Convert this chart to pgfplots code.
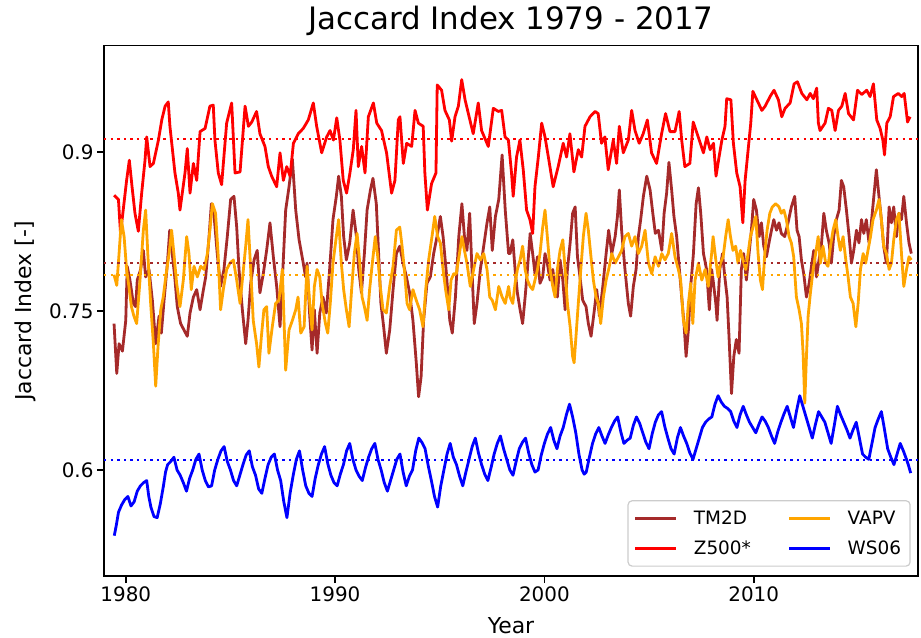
\documentclass[border=0pt]{standalone}
\usepackage{fontspec}
\setmainfont{DejaVu Sans}
\usepackage{pgfplots}
\pgfplotsset{compat=1.18}
\definecolor{mbrown}{HTML}{A52A2A}
\definecolor{morange}{HTML}{FFA500}
\definecolor{mred}{HTML}{FF0000}
\definecolor{mblue}{HTML}{0000FF}
\begin{document}
\begin{tikzpicture}
\useasboundingbox (-104bp,-62bp) rectangle (817bp,576bp);
\begin{axis}[
  scale only axis, width=814bp, height=530.3bp,
  xmin=1978.96, xmax=2017.85, ymin=0.5, ymax=1.0,
  axis line style={line width=1.6bp, black},
  tick style={line width=1.6bp, black},
  major tick length=7bp,
  tick align=outside,
  xtick pos=left, ytick pos=left,
  xtick={1980,1990,2000,2010}, xticklabels={1980,1990,2000,2010},
  ytick={0.6,0.75,0.9}, yticklabels={0.6,0.75,0.9},
  tick label style={font=\fontsize{20}{24}\selectfont},
  title={Jaccard Index 1979 - 2017},
  title style={font=\fontsize{31}{36}\selectfont, at={(axis description cs:0.5,1.0202)}, anchor=base},
  xlabel={Year},
  xlabel style={font=\fontsize{22}{26}\selectfont, at={(axis description cs:0.5,-0.1075)}, anchor=base},
  ylabel={Jaccard Index [-]},
  ylabel style={font=\fontsize{22}{26}\selectfont, at={(axis description cs:-0.0799,0.5)}, anchor=south, rotate=0},
  legend columns=2, transpose legend, legend cell align=left,
  legend image code/.code={\draw[#1] (0bp,0bp) -- (41bp,0bp);},
  legend style={at={(0.991,0.0175)}, anchor=south east, draw=black!20, line width=1.2bp,
    rounded corners=4bp, fill=white, fill opacity=0.8, text opacity=1,
    font=\fontsize{18.5}{22}\selectfont, inner xsep=6bp, inner ysep=7bp,
    nodes={inner sep=3bp}, row sep=9bp,
    /tikz/every odd column/.append style={column sep=13bp},
    /tikz/every even column/.append style={column sep=34bp}},
  every axis plot/.append style={line join=round},
]
% TM2D
\addplot[color=mbrown, line width=2.8bp] coordinates {
(1979.44,0.738)(1979.57,0.691)(1979.68,0.719)(1979.84,0.712)(1980.00,0.741)(1980.07,0.792)(1980.20,0.779)(1980.36,0.757)(1980.47,0.754)(1980.55,0.779)(1980.71,0.789)(1980.84,0.807)(1980.95,0.782)(1981.11,0.789)(1981.27,0.760)(1981.43,0.719)(1981.59,0.745)(1981.70,0.729)(1981.83,0.760)(1981.99,0.795)(1982.10,0.826)(1982.22,0.804)(1982.34,0.782)(1982.46,0.754)(1982.62,0.738)(1982.78,0.732)(1982.94,0.726)(1983.07,0.748)(1983.23,0.763)(1983.39,0.770)(1983.55,0.751)(1983.71,0.770)(1983.82,0.782)(1983.98,0.820)(1984.09,0.851)(1984.21,0.842)(1984.37,0.804)(1984.53,0.773)(1984.69,0.789)(1984.85,0.820)(1985.01,0.855)(1985.17,0.858)(1985.30,0.829)(1985.41,0.789)(1985.57,0.751)(1985.73,0.719)(1985.84,0.741)(1985.97,0.776)(1986.13,0.798)(1986.28,0.807)(1986.41,0.767)(1986.57,0.785)(1986.73,0.807)(1986.89,0.833)(1987.05,0.801)(1987.21,0.773)(1987.37,0.735)(1987.48,0.779)(1987.64,0.845)(1987.80,0.867)(1987.96,0.893)(1988.12,0.845)(1988.28,0.817)(1988.48,0.795)(1988.59,0.782)
(1988.66,0.795)(1988.79,0.745)(1988.90,0.713)(1989.01,0.751)(1989.14,0.710)(1989.27,0.748)(1989.42,0.763)(1989.58,0.748)(1989.74,0.789)(1989.90,0.836)(1990.06,0.858)(1990.17,0.877)(1990.30,0.858)(1990.41,0.820)(1990.54,0.798)(1990.70,0.814)(1990.86,0.845)(1991.02,0.820)(1991.13,0.789)(1991.26,0.767)(1991.40,0.804)(1991.53,0.845)(1991.69,0.864)(1991.81,0.875)(1991.97,0.851)(1992.08,0.804)(1992.19,0.757)(1992.32,0.735)(1992.45,0.710)(1992.61,0.732)(1992.77,0.770)(1992.93,0.804)(1993.09,0.811)(1993.25,0.795)(1993.41,0.782)(1993.56,0.767)(1993.72,0.741)(1993.88,0.701)(1993.99,0.669)(1994.11,0.688)(1994.23,0.741)(1994.39,0.776)(1994.55,0.782)(1994.71,0.804)(1994.87,0.820)(1995.03,0.839)(1995.16,0.820)(1995.32,0.785)(1995.48,0.741)(1995.60,0.729)(1995.75,0.763)(1995.91,0.820)(1996.06,0.851)(1996.18,0.820)(1996.30,0.807)(1996.43,0.842)(1996.54,0.789)(1996.65,0.738)(1996.78,0.757)(1996.94,0.789)(1997.10,0.811)(1997.26,0.833)(1997.39,0.848)(1997.51,0.807)(1997.66,0.839)(1997.82,0.855)(1997.98,0.897)(1998.13,0.845)(1998.29,0.804)
(1998.36,0.804)(1998.49,0.817)(1998.60,0.789)(1998.71,0.767)(1998.84,0.751)(1998.96,0.738)(1999.08,0.763)(1999.19,0.789)(1999.32,0.823)(1999.44,0.804)(1999.55,0.785)(1999.67,0.801)(1999.79,0.776)(1999.92,0.782)(2000.03,0.804)(2000.14,0.795)(2000.27,0.779)(2000.40,0.789)(2000.51,0.773)(2000.62,0.763)(2000.75,0.798)(2000.88,0.779)(2000.99,0.751)(2001.10,0.789)(2001.23,0.814)(2001.35,0.842)(2001.47,0.848)(2001.58,0.801)(2001.70,0.782)(2001.83,0.760)(2001.99,0.754)(2002.10,0.738)(2002.23,0.726)(2002.37,0.748)(2002.50,0.770)(2002.63,0.745)(2002.79,0.773)(2002.95,0.804)(2003.07,0.826)(2003.22,0.804)(2003.38,0.820)(2003.49,0.839)(2003.58,0.864)(2003.69,0.826)(2003.85,0.789)(2004.01,0.757)(2004.12,0.745)(2004.25,0.773)(2004.38,0.789)(2004.49,0.820)(2004.60,0.836)(2004.73,0.858)(2004.89,0.877)(2005.05,0.864)(2005.18,0.842)(2005.30,0.823)(2005.45,0.826)(2005.61,0.807)(2005.72,0.842)(2005.84,0.861)(2005.95,0.890)(2006.08,0.864)(2006.19,0.839)(2006.32,0.820)(2006.45,0.789)(2006.56,0.763)(2006.67,0.738)(2006.77,0.707)(2006.88,0.732)(2006.99,0.773)(2007.12,0.804)(2007.25,0.851)(2007.36,0.866)(2007.47,0.842)(2007.60,0.804)(2007.75,0.789)(2007.88,0.751)(2007.99,0.789)
(2008.06,0.779)(2008.19,0.757)(2008.25,0.741)(2008.38,0.789)(2008.51,0.804)(2008.62,0.782)(2008.73,0.763)(2008.82,0.726)(2008.94,0.672)(2009.05,0.707)(2009.17,0.723)(2009.30,0.710)(2009.41,0.789)(2009.52,0.804)(2009.65,0.779)(2009.78,0.804)(2009.89,0.826)(2010.00,0.855)(2010.13,0.845)(2010.26,0.820)(2010.37,0.833)(2010.48,0.811)(2010.61,0.801)(2010.73,0.814)(2010.85,0.826)(2010.96,0.836)(2011.09,0.826)(2011.21,0.833)(2011.32,0.823)(2011.48,0.820)(2011.64,0.833)(2011.80,0.848)(2011.96,0.858)(2012.07,0.826)(2012.17,0.820)(2012.28,0.798)(2012.39,0.785)(2012.52,0.763)(2012.65,0.776)(2012.76,0.792)(2012.87,0.807)(2013.00,0.782)(2013.12,0.798)(2013.23,0.811)(2013.35,0.842)(2013.47,0.826)(2013.60,0.814)(2013.71,0.795)(2013.82,0.820)(2013.95,0.836)(2014.08,0.845)(2014.19,0.873)(2014.30,0.867)(2014.43,0.845)(2014.56,0.820)(2014.67,0.795)(2014.78,0.807)(2014.91,0.826)(2015.03,0.814)(2015.15,0.836)(2015.26,0.823)(2015.38,0.836)(2015.51,0.814)(2015.62,0.833)(2015.74,0.858)(2015.86,0.883)(2015.97,0.861)(2016.10,0.836)(2016.21,0.811)(2016.34,0.795)(2016.47,0.848)(2016.58,0.833)(2016.69,0.848)(2016.82,0.820)(2016.94,0.842)(2017.06,0.836)(2017.17,0.858)(2017.30,0.833)(2017.42,0.814)(2017.53,0.804)
};
\addlegendentry{TM2D}
% Z500*
\addplot[color=mred, line width=2.8bp] coordinates {
(1979.44,0.859)(1979.65,0.855)(1979.75,0.823)(1980.04,0.873)(1980.17,0.892)(1980.30,0.867)(1980.44,0.842)(1980.60,0.825)(1980.76,0.861)(1980.92,0.892)(1981.00,0.914)(1981.16,0.886)(1981.32,0.889)(1981.56,0.911)(1981.72,0.930)(1981.88,0.943)(1982.03,0.947)(1982.11,0.924)(1982.35,0.880)(1982.51,0.861)(1982.59,0.845)(1982.83,0.880)(1982.94,0.903)(1983.07,0.861)(1983.23,0.889)(1983.39,0.873)(1983.55,0.919)(1983.79,0.922)(1984.02,0.943)(1984.18,0.944)(1984.26,0.911)(1984.42,0.880)(1984.58,0.869)(1984.82,0.927)(1985.06,0.946)(1985.22,0.880)(1985.46,0.881)(1985.70,0.943)(1985.86,0.924)(1986.02,0.928)(1986.25,0.938)(1986.41,0.917)(1986.65,0.905)(1986.81,0.886)(1986.97,0.877)(1987.21,0.867)(1987.37,0.899)(1987.53,0.873)(1987.69,0.886)(1987.85,0.877)(1988.01,0.908)(1988.24,0.917)(1988.48,0.922)(1988.72,0.930)(1988.96,0.946)(1989.12,0.924)(1989.36,0.899)(1989.60,0.914)(1989.76,0.920)(1989.92,0.911)(1990.08,0.932)(1990.23,0.911)(1990.39,0.873)(1990.55,0.861)(1990.71,0.880)(1990.87,0.902)(1991.00,0.939)(1991.11,0.886)(1991.27,0.905)(1991.43,0.880)(1991.59,0.933)(1991.83,0.946)(1991.99,0.927)(1992.22,0.920)(1992.46,0.899)(1992.70,0.861)(1992.86,0.873)(1993.02,0.930)
(1993.10,0.933)(1993.26,0.889)(1993.42,0.908)(1993.66,0.905)(1993.82,0.939)(1993.98,0.927)(1994.21,0.924)(1994.29,0.880)(1994.41,0.845)(1994.61,0.870)(1994.82,0.880)(1994.88,0.963)(1995.09,0.958)(1995.25,0.939)(1995.46,0.930)(1995.57,0.910)(1995.73,0.933)(1995.89,0.943)(1996.05,0.968)(1996.21,0.949)(1996.44,0.930)(1996.60,0.917)(1996.84,0.946)(1997.00,0.920)(1997.32,0.905)(1997.56,0.941)(1997.80,0.938)(1997.96,0.939)(1998.12,0.914)(1998.28,0.911)(1998.43,0.880)(1998.51,0.858)(1998.67,0.895)(1998.83,0.911)(1998.99,0.883)(1999.15,0.845)(1999.31,0.836)(1999.44,0.823)(1999.55,0.867)(1999.71,0.895)(1999.87,0.927)(2000.03,0.914)(2000.19,0.895)(2000.42,0.867)(2000.66,0.886)(2000.90,0.908)(2001.06,0.895)(2001.22,0.917)(2001.41,0.881)(2001.62,0.902)(2001.78,0.895)(2001.94,0.924)(2002.18,0.933)(2002.42,0.938)(2002.57,0.936)(2002.73,0.908)(2002.89,0.914)(2003.05,0.883)(2003.29,0.911)(2003.45,0.889)(2003.58,0.924)(2003.77,0.899)(2004.01,0.911)(2004.17,0.939)(2004.33,0.920)(2004.53,0.908)(2004.72,0.917)(2004.92,0.930)(2005.12,0.899)(2005.36,0.889)(2005.60,0.917)(2005.79,0.936)(2006.00,0.919)(2006.24,0.919)(2006.44,0.938)(2006.56,0.911)(2006.71,0.886)(2006.95,0.889)(2007.11,0.928)(2007.35,0.914)
(2007.60,0.899)(2007.76,0.914)(2007.92,0.902)(2008.08,0.908)(2008.20,0.877)(2008.32,0.892)(2008.48,0.911)(2008.63,0.924)(2008.71,0.950)(2008.91,0.949)(2009.03,0.908)(2009.19,0.880)(2009.35,0.867)(2009.48,0.833)(2009.59,0.873)(2009.75,0.905)(2009.86,0.927)(2009.96,0.957)(2010.15,0.949)(2010.39,0.939)(2010.55,0.943)(2010.78,0.952)(2010.97,0.958)(2011.18,0.949)(2011.34,0.933)(2011.50,0.941)(2011.74,0.946)(2011.93,0.964)(2012.09,0.966)(2012.30,0.955)(2012.54,0.949)(2012.70,0.955)(2012.85,0.950)(2013.01,0.960)(2013.09,0.927)(2013.17,0.920)(2013.41,0.927)(2013.57,0.941)(2013.73,0.939)(2013.89,0.920)(2014.05,0.939)(2014.21,0.943)(2014.37,0.955)(2014.53,0.936)(2014.77,0.930)(2014.96,0.958)(2015.16,0.954)(2015.40,0.958)(2015.56,0.952)(2015.72,0.964)(2015.88,0.930)(2016.04,0.922)(2016.17,0.911)(2016.25,0.897)(2016.36,0.927)(2016.52,0.933)(2016.68,0.952)(2016.91,0.955)(2017.07,0.952)(2017.19,0.955)(2017.35,0.928)(2017.47,0.933)
};
\addlegendentry{Z500*}
% VAPV
\addplot[color=morange, line width=2.8bp] coordinates {
(1979.44,0.784)(1979.57,0.774)(1979.68,0.804)(1979.79,0.836)(1979.92,0.820)(1980.04,0.789)(1980.15,0.773)(1980.27,0.754)(1980.39,0.745)(1980.52,0.738)(1980.68,0.779)(1980.84,0.826)(1980.95,0.845)(1981.06,0.801)(1981.19,0.757)(1981.32,0.719)(1981.43,0.679)(1981.54,0.716)(1981.67,0.751)(1981.79,0.763)(1981.91,0.782)(1982.07,0.804)(1982.19,0.826)(1982.30,0.804)(1982.43,0.776)(1982.59,0.754)(1982.75,0.779)(1982.91,0.820)(1983.02,0.804)(1983.13,0.770)(1983.26,0.792)(1983.42,0.782)(1983.58,0.792)(1983.74,0.789)(1983.90,0.804)(1984.02,0.826)(1984.14,0.851)(1984.29,0.842)(1984.41,0.804)(1984.53,0.751)(1984.66,0.770)(1984.82,0.789)(1984.98,0.795)(1985.14,0.798)(1985.30,0.779)(1985.46,0.757)(1985.62,0.789)(1985.73,0.811)(1985.84,0.836)(1985.97,0.789)(1986.09,0.741)(1986.25,0.719)(1986.36,0.697)(1986.48,0.726)(1986.60,0.751)(1986.73,0.754)(1986.84,0.710)(1987.00,0.735)(1987.16,0.757)(1987.32,0.760)(1987.48,0.789)(1987.64,0.694)(1987.80,0.732)(1987.96,0.741)(1988.12,0.751)(1988.23,0.763)(1988.36,0.729)(1988.52,0.735)
(1988.66,0.792)(1988.79,0.757)(1988.90,0.732)(1989.01,0.773)(1989.14,0.789)(1989.27,0.782)(1989.38,0.757)(1989.54,0.738)(1989.65,0.729)(1989.77,0.757)(1989.90,0.795)(1990.06,0.820)(1990.17,0.836)(1990.30,0.795)(1990.41,0.770)(1990.54,0.751)(1990.67,0.735)(1990.79,0.770)(1990.92,0.804)(1991.05,0.823)(1991.18,0.795)(1991.29,0.763)(1991.40,0.754)(1991.53,0.741)(1991.65,0.770)(1991.78,0.795)(1991.92,0.820)(1992.04,0.801)(1992.16,0.773)(1992.29,0.751)(1992.45,0.748)(1992.61,0.773)(1992.77,0.792)(1992.93,0.826)(1993.09,0.829)(1993.20,0.811)(1993.31,0.789)(1993.44,0.757)(1993.56,0.751)(1993.72,0.770)(1993.88,0.760)(1994.04,0.751)(1994.20,0.735)(1994.33,0.770)(1994.47,0.798)(1994.63,0.820)(1994.76,0.839)(1994.90,0.820)(1995.03,0.814)(1995.16,0.789)(1995.28,0.770)(1995.43,0.751)(1995.54,0.779)(1995.67,0.785)(1995.79,0.785)(1995.92,0.801)(1996.06,0.820)(1996.18,0.807)(1996.30,0.795)(1996.46,0.773)(1996.62,0.789)(1996.78,0.804)(1996.94,0.798)(1997.10,0.804)(1997.26,0.789)(1997.39,0.763)(1997.51,0.760)(1997.66,0.751)(1997.82,0.773)(1997.98,0.763)(1998.13,0.757)(1998.29,0.773)
(1998.36,0.763)(1998.49,0.757)(1998.60,0.776)(1998.71,0.789)(1998.84,0.798)(1998.96,0.811)(1999.08,0.789)(1999.19,0.779)(1999.32,0.773)(1999.44,0.770)(1999.55,0.779)(1999.67,0.789)(1999.79,0.804)(1999.92,0.829)(2000.03,0.845)(2000.14,0.820)(2000.27,0.789)(2000.40,0.773)(2000.51,0.763)(2000.62,0.789)(2000.75,0.807)(2000.88,0.817)(2000.99,0.789)(2001.10,0.757)(2001.23,0.735)(2001.35,0.707)(2001.42,0.701)(2001.51,0.726)(2001.62,0.757)(2001.74,0.789)(2001.86,0.820)(2001.99,0.842)(2002.10,0.826)(2002.21,0.804)(2002.34,0.779)(2002.47,0.763)(2002.58,0.757)(2002.69,0.738)(2002.82,0.763)(2002.95,0.779)(2003.07,0.789)(2003.22,0.804)(2003.38,0.795)(2003.54,0.801)(2003.69,0.807)(2003.85,0.820)(2004.01,0.823)(2004.17,0.811)(2004.33,0.820)(2004.49,0.804)(2004.65,0.811)(2004.81,0.826)(2004.97,0.795)(2005.13,0.785)(2005.29,0.801)(2005.45,0.792)(2005.61,0.804)(2005.76,0.798)(2005.92,0.804)(2006.08,0.823)(2006.24,0.801)(2006.40,0.789)(2006.51,0.779)(2006.64,0.741)(2006.77,0.729)(2006.88,0.757)(2006.99,0.776)(2007.09,0.738)(2007.20,0.779)(2007.36,0.795)(2007.52,0.779)(2007.68,0.789)(2007.83,0.773)(2007.99,0.804)
(2008.06,0.820)(2008.19,0.798)(2008.30,0.782)(2008.41,0.795)(2008.54,0.801)(2008.66,0.820)(2008.78,0.836)(2008.89,0.820)(2009.01,0.807)(2009.14,0.811)(2009.25,0.795)(2009.37,0.807)(2009.49,0.798)(2009.62,0.789)(2009.73,0.804)(2009.84,0.820)(2009.97,0.829)(2010.10,0.839)(2010.21,0.804)(2010.32,0.779)(2010.42,0.770)(2010.53,0.804)(2010.64,0.826)(2010.77,0.842)(2010.89,0.848)(2011.05,0.851)(2011.21,0.848)(2011.32,0.842)(2011.44,0.845)(2011.56,0.836)(2011.69,0.820)(2011.80,0.814)(2011.91,0.801)(2012.04,0.763)(2012.17,0.751)(2012.28,0.738)(2012.36,0.710)(2012.44,0.663)(2012.52,0.707)(2012.60,0.745)(2012.71,0.767)(2012.84,0.789)(2012.96,0.804)(2013.08,0.820)(2013.19,0.795)(2013.31,0.811)(2013.44,0.795)(2013.55,0.792)(2013.67,0.811)(2013.79,0.826)(2013.92,0.836)(2014.03,0.820)(2014.14,0.807)(2014.27,0.820)(2014.40,0.798)(2014.51,0.782)(2014.62,0.763)(2014.75,0.757)(2014.88,0.735)(2014.99,0.757)(2015.10,0.789)(2015.23,0.804)(2015.35,0.795)(2015.46,0.807)(2015.58,0.820)(2015.70,0.836)(2015.86,0.845)(2015.99,0.855)(2016.10,0.836)(2016.21,0.811)(2016.34,0.804)(2016.47,0.789)(2016.58,0.795)(2016.69,0.817)(2016.82,0.836)(2016.94,0.842)(2017.06,0.804)(2017.17,0.773)(2017.30,0.789)(2017.42,0.801)(2017.53,0.798)
};
\addlegendentry{VAPV}
% WS06
\addplot[color=mblue, line width=2.8bp] coordinates {
(1979.45,0.538)(1979.55,0.548)(1979.65,0.560)(1979.80,0.567)(1979.95,0.572)(1980.10,0.575)(1980.25,0.566)(1980.40,0.570)(1980.55,0.580)(1980.70,0.585)(1980.85,0.588)(1981.00,0.590)(1981.10,0.575)(1981.20,0.565)(1981.35,0.556)(1981.50,0.555)(1981.65,0.568)(1981.80,0.585)(1981.90,0.598)(1982.00,0.605)(1982.15,0.608)(1982.30,0.612)(1982.45,0.600)(1982.60,0.595)(1982.75,0.588)(1982.90,0.580)(1983.05,0.592)(1983.20,0.600)(1983.35,0.610)(1983.50,0.615)(1983.65,0.600)(1983.80,0.590)(1983.95,0.584)(1984.10,0.585)(1984.25,0.600)(1984.40,0.610)(1984.55,0.618)(1984.70,0.622)(1984.85,0.608)(1985.00,0.600)(1985.15,0.590)(1985.30,0.585)(1985.45,0.595)(1985.60,0.605)(1985.75,0.614)(1985.90,0.618)(1986.05,0.603)(1986.20,0.595)(1986.35,0.582)(1986.50,0.578)(1986.65,0.592)(1986.80,0.605)(1986.95,0.612)(1987.10,0.615)(1987.25,0.600)(1987.40,0.590)(1987.55,0.570)(1987.70,0.555)(1987.85,0.578)(1988.00,0.595)(1988.15,0.610)(1988.30,0.618)(1988.45,0.600)(1988.60,0.585)(1988.75,0.578)(1988.90,0.575)(1989.05,0.592)(1989.20,0.605)(1989.35,0.615)(1989.50,0.622)(1989.65,0.606)(1989.80,0.595)(1989.95,0.588)(1990.10,0.585)(1990.25,0.596)(1990.40,0.605)(1990.55,0.618)(1990.70,0.625)(1990.85,0.610)(1991.00,0.600)(1991.15,0.594)(1991.30,0.590)(1991.45,0.602)(1991.60,0.612)(1991.75,0.620)(1991.90,0.625)(1992.05,0.610)(1992.20,0.600)(1992.35,0.588)(1992.50,0.580)(1992.65,0.590)(1992.80,0.600)(1992.95,0.610)(1993.10,0.615)(1993.25,0.598)(1993.40,0.585)(1993.55,0.594)(1993.70,0.600)(1993.85,0.618)(1994.00,0.630)(1994.15,0.626)(1994.30,0.620)(1994.45,0.604)(1994.60,0.590)(1994.75,0.575)(1994.90,0.565)(1995.05,0.585)(1995.20,0.600)(1995.35,0.615)(1995.50,0.625)(1995.65,0.612)(1995.80,0.605)(1995.95,0.594)(1996.10,0.585)(1996.25,0.598)(1996.40,0.610)(1996.55,0.622)(1996.70,0.630)(1996.85,0.616)(1997.00,0.605)(1997.15,0.596)(1997.30,0.590)(1997.45,0.602)(1997.60,0.615)(1997.75,0.625)(1997.90,0.632)(1998.05,0.620)(1998.20,0.610)(1998.35,0.600)(1998.50,0.595)(1998.65,0.608)(1998.80,0.620)(1998.95,0.626)(1999.10,0.630)(1999.25,0.616)(1999.40,0.605)(1999.55,0.598)(1999.70,0.600)(1999.85,0.614)(2000.00,0.625)(2000.15,0.634)(2000.30,0.640)(2000.45,0.628)(2000.60,0.620)(2000.75,0.632)(2000.90,0.640)(2001.05,0.652)(2001.20,0.662)(2001.35,0.650)(2001.50,0.635)(2001.65,0.615)(2001.80,0.600)(2001.90,0.596)(2002.00,0.598)(2002.15,0.612)(2002.30,0.625)(2002.45,0.634)(2002.60,0.640)(2002.75,0.632)(2002.90,0.625)(2003.05,0.633)(2003.20,0.640)(2003.35,0.646)(2003.50,0.650)(2003.65,0.636)(2003.80,0.625)(2003.95,0.628)(2004.10,0.630)(2004.25,0.642)(2004.40,0.650)(2004.55,0.644)(2004.70,0.635)(2004.85,0.626)(2005.00,0.620)(2005.15,0.634)(2005.30,0.645)(2005.45,0.652)(2005.60,0.655)(2005.75,0.641)(2005.90,0.630)(2006.05,0.620)(2006.20,0.615)(2006.35,0.630)(2006.50,0.640)(2006.65,0.632)(2006.80,0.625)(2006.95,0.616)(2007.10,0.610)(2007.25,0.620)(2007.40,0.630)(2007.55,0.640)(2007.70,0.645)(2007.85,0.648)(2008.00,0.650)(2008.15,0.662)(2008.30,0.670)(2008.45,0.664)(2008.60,0.660)(2008.75,0.658)(2008.90,0.655)(2009.05,0.646)(2009.20,0.640)(2009.35,0.652)(2009.50,0.660)(2009.65,0.652)(2009.80,0.645)(2009.95,0.640)(2010.10,0.635)(2010.25,0.643)(2010.40,0.650)(2010.55,0.646)(2010.70,0.640)(2010.85,0.632)(2011.00,0.625)(2011.15,0.636)(2011.30,0.645)(2011.45,0.653)(2011.60,0.660)(2011.75,0.650)(2011.90,0.640)(2012.05,0.656)(2012.20,0.670)(2012.35,0.660)(2012.50,0.650)(2012.65,0.640)(2012.80,0.630)(2012.95,0.643)(2013.10,0.655)(2013.25,0.650)(2013.40,0.645)(2013.55,0.635)(2013.70,0.625)(2013.85,0.642)(2014.00,0.660)(2014.15,0.652)(2014.30,0.645)(2014.45,0.638)(2014.60,0.630)(2014.75,0.638)(2014.90,0.645)(2015.05,0.630)(2015.20,0.615)(2015.35,0.612)(2015.50,0.610)(2015.65,0.625)(2015.80,0.640)(2015.95,0.648)(2016.10,0.655)(2016.25,0.638)(2016.40,0.620)(2016.55,0.612)(2016.70,0.605)(2016.85,0.615)(2017.00,0.625)(2017.15,0.618)(2017.30,0.610)(2017.40,0.604)(2017.50,0.597)
};
\addlegendentry{WS06}
% means
\addplot[forget plot, color=mbrown, line width=1.8bp, dash pattern=on 2.4bp off 4.2bp] coordinates {(1978.96,0.795)(2017.85,0.795)};
\addplot[forget plot, color=mred, line width=1.8bp, dash pattern=on 2.4bp off 4.2bp] coordinates {(1978.96,0.912)(2017.85,0.912)};
\addplot[forget plot, color=morange, line width=1.8bp, dash pattern=on 2.4bp off 4.2bp] coordinates {(1978.96,0.784)(2017.85,0.784)};
\addplot[forget plot, color=mblue, line width=1.8bp, dash pattern=on 2.4bp off 4.2bp] coordinates {(1978.96,0.609)(2017.85,0.609)};
\end{axis}
\end{tikzpicture}
\end{document}
